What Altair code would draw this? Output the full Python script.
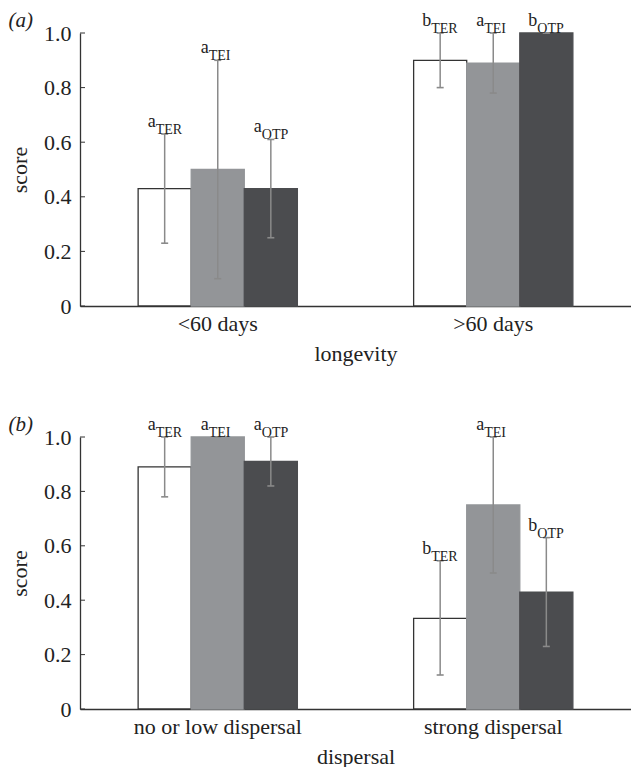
import altair as alt
import pandas as pd

series = ["TER", "TEI", "OTP"]
colors = ["#ffffff", "#939598", "#4b4c4f"]
strokes = ["#333333", "#939598", "#4b4c4f"]

a_groups = ["<60 days", ">60 days"]
a_values = [[0.43, 0.50, 0.43], [0.90, 0.89, 1.00]]
a_low = [[0.23, 0.10, 0.25], [0.80, 0.78, 1.00]]
a_high = [[0.63, 0.90, 0.61], [1.00, 1.00, 1.00]]
a_letters = [["a", "a", "a"], ["b", "a", "b"]]

b_groups = ["no or low dispersal", "strong dispersal"]
b_values = [[0.89, 1.00, 0.91], [0.333, 0.75, 0.43]]
b_low = [[0.78, 1.00, 0.82], [0.125, 0.50, 0.23]]
b_high = [[1.00, 1.00, 1.00], [0.545, 1.00, 0.63]]
b_letters = [["a", "a", "a"], ["b", "a", "b"]]

y_ticks = [0, 0.2, 0.4, 0.6, 0.8, 1.0]

FONT = "Liberation Serif"
TXT = "#222222"
ERR = "#8a8a8a"


def panel(groups, values, low, high, letters, xtitle, tag, height):
    rows = []
    for gi, g in enumerate(groups):
        for si, s in enumerate(series):
            rows.append(dict(group=g, series=s, value=values[gi][si],
                             low=low[gi][si], high=high[gi][si],
                             letter=letters[gi][si]))
    df = pd.DataFrame(rows)

    yscale = alt.Scale(domain=[0, 1], nice=False, zero=True)
    yaxis = alt.Axis(title="score", values=y_ticks, ticks=False,
                     labelExpr="datum.value == 0 ? '0' : format(datum.value, '.1f')",
                     labelPadding=9, titlePadding=12)
    xenc = alt.X("group:N", sort=groups,
                 scale=alt.Scale(paddingInner=0.422, paddingOuter=0.211),
                 axis=alt.Axis(title=xtitle, labelAngle=0, ticks=False,
                               labelPadding=7, titlePadding=9))
    xoff = alt.XOffset("series:N", sort=series,
                       scale=alt.Scale(domain=series, paddingInner=0, paddingOuter=0))
    base = alt.Chart(df).encode(x=xenc, xOffset=xoff)

    bars = base.mark_bar(strokeWidth=1.3).encode(
        y=alt.Y("value:Q", scale=yscale, axis=yaxis),
        fill=alt.Fill("series:N", scale=alt.Scale(domain=series, range=colors), legend=None),
        stroke=alt.Stroke("series:N", scale=alt.Scale(domain=series, range=strokes), legend=None),
    )
    err = base.mark_rule(color=ERR, strokeWidth=1.5).encode(
        y=alt.Y("low:Q", scale=yscale, axis=yaxis), y2="high:Q")
    cap_shape = "M-1,0L1,0"
    cap_lo = base.mark_point(shape=cap_shape, size=49, filled=False, color=ERR,
                             strokeWidth=1.6, opacity=1).encode(
        y=alt.Y("low:Q", scale=yscale, axis=yaxis))
    cap_hi = base.mark_point(shape=cap_shape, size=49, filled=False, color=ERR,
                             strokeWidth=1.6, opacity=1).encode(
        y=alt.Y("high:Q", scale=yscale, axis=yaxis))
    letter = base.mark_text(align="right", dx=-9, dy=-12, fontSize=18, font=FONT,
                            color=TXT).encode(
        y=alt.Y("high:Q", scale=yscale, axis=yaxis), text="letter:N")
    sub = base.mark_text(align="left", dx=-9, dy=-4, fontSize=14, font=FONT,
                         color=TXT).encode(
        y=alt.Y("high:Q", scale=yscale, axis=yaxis), text="series:N")
    ticks = alt.Chart(pd.DataFrame({"t": y_ticks})).mark_rule(
        color="#333333", strokeWidth=1).encode(
        y=alt.Y("t:Q", scale=yscale, axis=yaxis), x=alt.value(0), x2=alt.value(5))

    return alt.layer(bars, err, cap_lo, cap_hi, letter, sub, ticks).properties(
        width=551, height=height,
        title=alt.TitleParams(tag, anchor="start", frame="bounds", fontSize=21,
                              fontStyle="italic", fontWeight="normal", font=FONT,
                              color=TXT, offset=-19),
    )


pa = panel(a_groups, a_values, a_low, a_high, a_letters, "longevity", "(a)", 273)
pb = panel(b_groups, b_values, b_low, b_high, b_letters, "dispersal", "(b)", 272)

chart = alt.vconcat(pa, pb, spacing=50).properties(
    padding={"left": 0, "top": 2, "right": 0, "bottom": 0},
    background="white",
).configure_axis(
    labelFont=FONT, titleFont=FONT, labelFontSize=22, titleFontSize=22,
    labelColor=TXT, titleColor=TXT, titleFontWeight="normal",
    domainColor="#333333", domainWidth=1.3, grid=False,
).configure_view(stroke=None)

chart.save("out.html", embed_options={"renderer": "svg", "actions": False})
